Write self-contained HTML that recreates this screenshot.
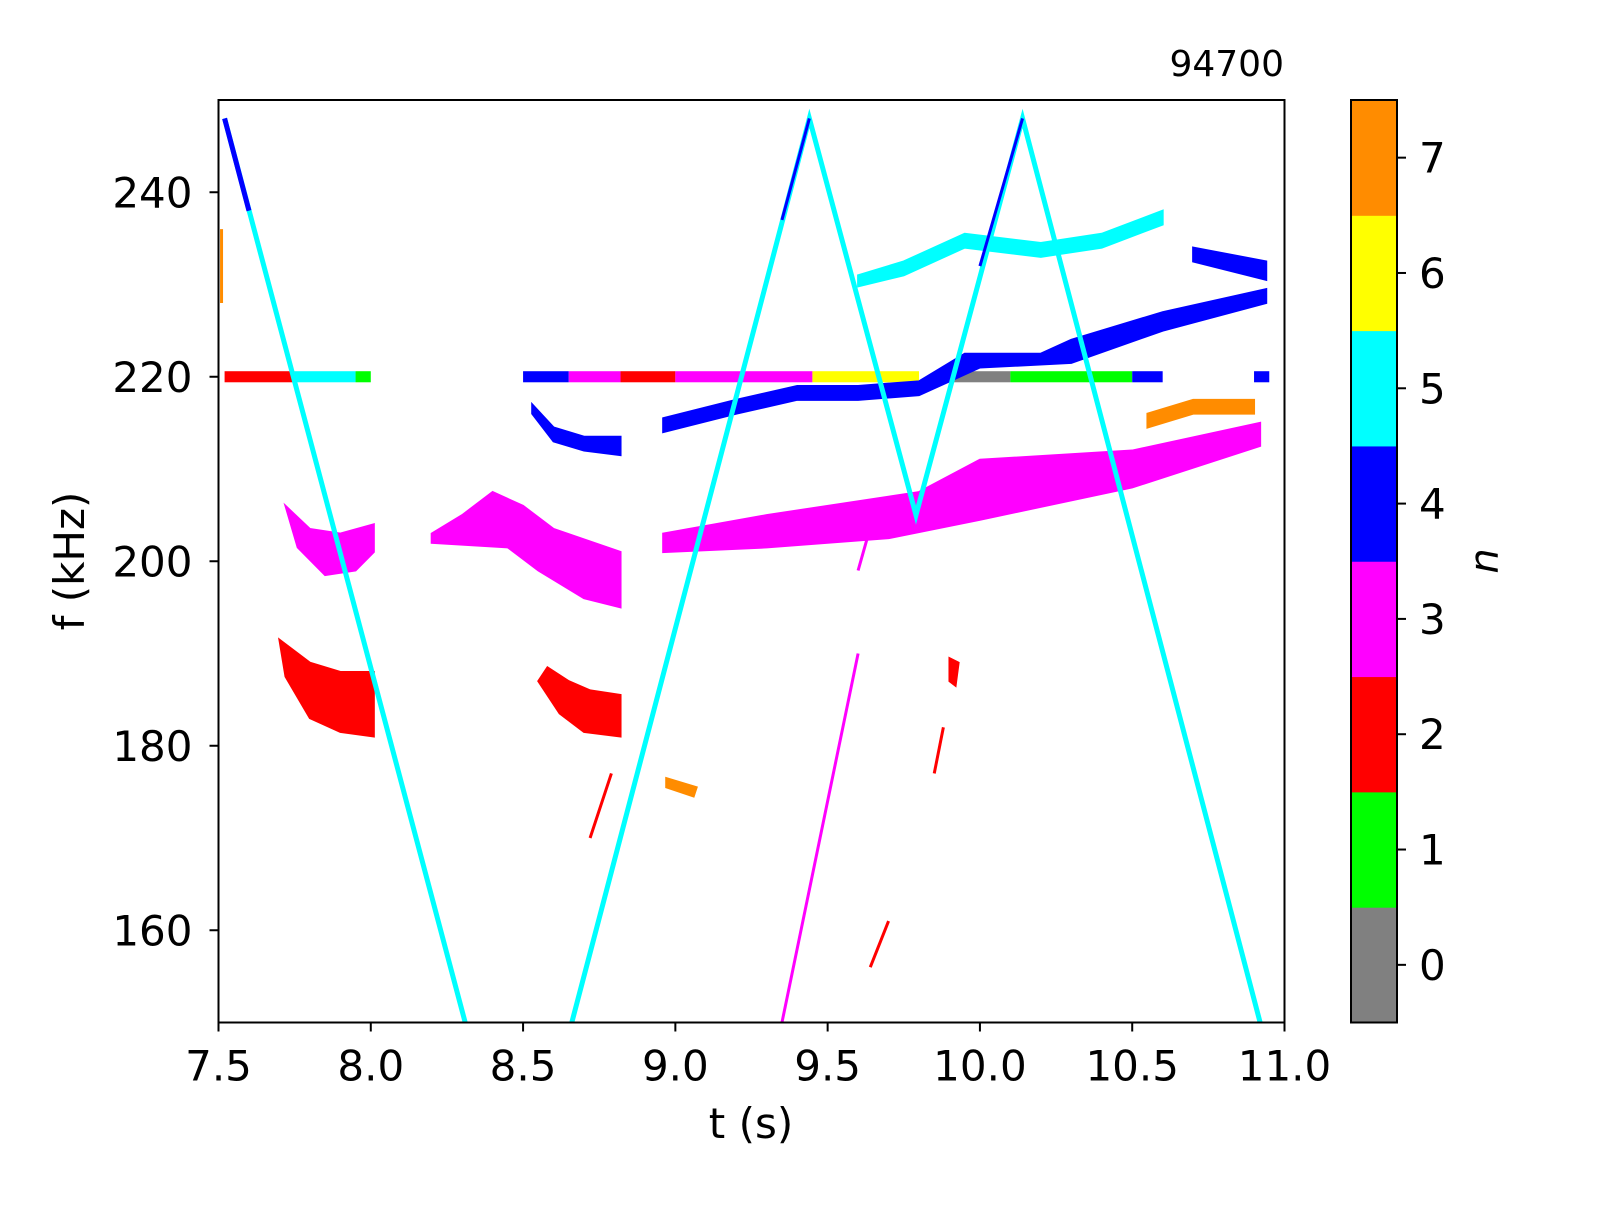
<!DOCTYPE html>
<html><head><meta charset="utf-8"><style>
body{margin:0;background:#fff;}
svg text{font-family:"DejaVu Sans","Liberation Sans",sans-serif;fill:#000;}
</style></head><body>
<svg id="chart" width="1600" height="1200" viewBox="0 0 1600 1200" xmlns="http://www.w3.org/2000/svg">
<rect width="1600" height="1200" fill="#fff"/>
<g id="plot"></g>
<g id="axes"></g>
<g id="cbar"></g>
<text x="1284" y="76" text-anchor="end" font-size="36">94700</text>
<text x="751" y="1138" text-anchor="middle" font-size="42">t (s)</text>
<text transform="translate(84,561) rotate(-90)" text-anchor="middle" font-size="42">f (kHz)</text>
<text transform="translate(1498,561) rotate(-90)" text-anchor="middle" font-size="40" font-style="italic">n</text>
</svg>
<script>
const xTicks=[7.5,8.0,8.5,9.0,9.5,10.0,10.5,11.0];
const xTickLabels=["7.5","8.0","8.5","9.0","9.5","10.0","10.5","11.0"];
const yTicks=[160,180,200,220,240];
const yTickLabels=["160","180","200","220","240"];
const nValues=[0,1,2,3,4,5,6,7];
const nColors=["#808080","#00ff00","#ff0000","#ff00ff","#0000ff","#00ffff","#ffff00","#ff8c00"];
const sweep1=[[7.52,248],[8.31,150]];
const sweep2=[[8.66,150],[9.44,248],[9.79,205],[10.14,248],[10.92,150]];
const blobPts=[
[[7.72,206],[7.8,203.5],[7.9,203],[8.01,204],[8.01,201],[7.95,199],[7.85,198.5],[7.76,201.5]],
[[8.2,203],[8.3,205],[8.4,207.5],[8.5,206],[8.6,203.5],[8.82,201],[8.82,195],[8.7,196],[8.55,199],[8.45,201.5],[8.2,202]],
[[8.96,203],[9.3,205],[9.8,207.5],[10.0,211],[10.5,212],[10.92,215],[10.92,212.5],[10.5,208],[10.0,204.5],[9.7,202.5],[9.3,201.5],[8.96,201]],
[[7.7,191.5],[7.8,189],[7.9,188],[8.01,188],[8.01,181],[7.9,181.5],[7.8,183],[7.72,187.5]],
[[8.58,188.5],[8.65,187],[8.72,186],[8.82,185.5],[8.82,181],[8.7,181.5],[8.62,183.5],[8.55,187]],
[[8.53,217],[8.6,214.5],[8.7,213.5],[8.82,213.5],[8.82,211.5],[8.7,212],[8.6,213],[8.53,216]],
[[8.96,215.5],[9.2,217.5],[9.4,219],[9.6,219],[9.8,219.5],[9.95,222.5],[10.2,222.5],[10.3,224],[10.6,227],[10.94,229.5],[10.94,228],[10.6,225],[10.3,221.5],[10.0,221],[9.8,218],[9.6,217.5],[9.4,217.5],[9.2,216],[8.96,214]],
[[9.6,231],[9.75,232.5],[9.95,235.5],[10.2,234.5],[10.4,235.5],[10.6,238],[10.6,236.5],[10.4,234],[10.2,233],[9.95,234],[9.75,231],[9.6,229.8]],
[[10.7,234],[10.94,232.5],[10.94,230.5],[10.7,232.5]],
[[10.55,216],[10.7,217.5],[10.9,217.5],[10.9,216],[10.7,216],[10.55,214.5]],
[[8.97,176.5],[9.07,175.5],[9.06,174.5],[8.97,175.5]],
[[9.9,189.5],[9.93,189],[9.92,186.5],[9.9,187]]
];
const blobN=[3,3,3,2,2,4,4,5,4,7,7,2];
const streaks=[[9.35,150,9.6,190],[9.6,199,9.66,206],[8.79,177,8.72,170],[9.64,156,9.7,161],[9.88,182,9.85,177],[7.51,236,7.51,228]];
const streakN=[3,3,2,2,2,7];
const segT0=[7.52,7.75,7.95,8.5,8.65,8.82,9.0,9.45,9.85,10.1,10.5,10.9];
const segT1=[7.75,7.95,8.0,8.65,8.82,9.0,9.45,9.8,10.1,10.5,10.6,10.95];
const segN=[2,5,1,4,3,2,3,6,0,1,4,4];

const X0=218.5,X1=1284.5,Y0=1022.5,Y1=100;
const xs=t=>X0+(t-7.5)/(11-7.5)*(X1-X0);
const ys=f=>Y0-(f-150)/(250-150)*(Y0-Y1);
const NS="http://www.w3.org/2000/svg";
function mk(tag,attrs,parent){const e=document.createElementNS(NS,tag);for(const k in attrs)e.setAttribute(k,attrs[k]);parent.appendChild(e);return e;}
const plot=document.getElementById('plot'),axes=document.getElementById('axes'),cbar=document.getElementById('cbar');
mk('clipPath',{id:'clip'},plot);
mk('rect',{x:X0,y:Y1,width:X1-X0,height:Y0-Y1},document.getElementById('clip'));
const g=mk('g',{'clip-path':'url(#clip)'},plot);

segT0.forEach((t0,i)=>{
 const r=mk('rect',{x:xs(t0),y:ys(220.6),width:xs(segT1[i])-xs(t0),height:ys(219.4)-ys(220.6),fill:nColors[segN[i]]},g);
 
 
});
blobPts.forEach((pts,i)=>{
 const p=mk('polygon',{points:pts.map(q=>xs(q[0])+','+ys(q[1])).join(' '),fill:nColors[blobN[i]],stroke:nColors[blobN[i]],'stroke-width':2},g);
 
 
});
streaks.forEach((s,i)=>{
 const l=mk('line',{x1:xs(s[0]),y1:ys(s[1]),x2:xs(s[2]),y2:ys(s[3]),stroke:nColors[streakN[i]],'stroke-width':3},g);
 
 
});
[sweep1,sweep2].forEach(sw=>{
 const pl=mk('polyline',{points:sw.map(q=>xs(q[0])+','+ys(q[1])).join(' '),fill:'none',stroke:'#00ffff','stroke-width':5,'stroke-linejoin':'miter'},g);
 
 
});
mk('line',{x1:xs(7.52),y1:ys(248),x2:xs(7.6),y2:ys(238),stroke:'#0000ff','stroke-width':5},g);
mk('line',{x1:xs(9.44),y1:ys(248),x2:xs(9.35),y2:ys(237),stroke:'#0000ff','stroke-width':3},g);
mk('line',{x1:xs(10.14),y1:ys(248),x2:xs(10.0),y2:ys(232),stroke:'#0000ff','stroke-width':3},g);

const fr=mk('rect',{x:X0,y:Y1,width:X1-X0,height:Y0-Y1,fill:'none',stroke:'#000','stroke-width':2},axes);


xTicks.forEach((t,i)=>{
 mk('line',{x1:xs(t),y1:Y0,x2:xs(t),y2:Y0+9,stroke:'#000','stroke-width':2},axes);
 const tx=mk('text',{x:xs(t),y:Y0+58,'text-anchor':'middle','font-size':42},axes);
 tx.textContent=xTickLabels[i];
 
 
});
yTicks.forEach((f,i)=>{
 mk('line',{x1:X0-9,y1:ys(f),x2:X0,y2:ys(f),stroke:'#000','stroke-width':2},axes);
 const tx=mk('text',{x:X0-26,y:ys(f)+15,'text-anchor':'end','font-size':42},axes);
 tx.textContent=yTickLabels[i];
 
 
});
const CX=1351,CW=46,h=(Y0-Y1)/nValues.length;
nValues.forEach((n,i)=>{
 const y=Y0-(i+1)*h;
 const r=mk('rect',{x:CX,y:y,width:CW,height:h+0.5,fill:nColors[i]},cbar);
 
 
 mk('line',{x1:CX+CW,y1:y+h/2,x2:CX+CW+9,y2:y+h/2,stroke:'#000','stroke-width':2},cbar);
 const tx=mk('text',{x:CX+CW+22,y:y+h/2+15,'font-size':42},cbar);
 tx.textContent=String(n);
 
 
});
mk('rect',{x:CX,y:Y1,width:CW,height:Y0-Y1,fill:'none',stroke:'#000','stroke-width':2},cbar);
</script>
</body></html>
